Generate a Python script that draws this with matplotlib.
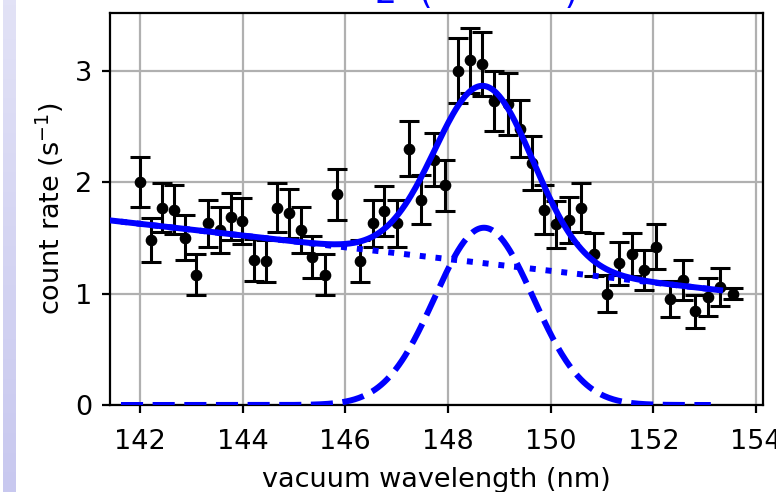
import numpy as np
import matplotlib.pyplot as plt
from matplotlib.colors import LinearSegmentedColormap

### data
wavelength = [142.00, 142.21, 142.43, 142.66, 142.88, 143.10, 143.32, 143.55, 143.77, 143.99,
              144.22, 144.45, 144.67, 144.90, 145.13, 145.36, 145.60, 145.84, 146.29, 146.53,
              146.76, 147.00, 147.24, 147.48, 147.72, 147.94, 148.19, 148.42, 148.66, 148.90,
              149.16, 149.41, 149.63, 149.87, 150.10, 150.36, 150.60, 150.85, 151.10, 151.34,
              151.58, 151.82, 152.06, 152.33, 152.57, 152.81, 153.06, 153.30, 153.56]
rate = [2.00, 1.48, 1.77, 1.75, 1.50, 1.17, 1.63, 1.57, 1.69, 1.65,
        1.30, 1.29, 1.77, 1.72, 1.57, 1.33, 1.17, 1.89, 1.29, 1.63,
        1.74, 1.63, 2.30, 1.84, 2.20, 1.97, 3.00, 3.09, 3.06, 2.73,
        2.70, 2.48, 2.17, 1.75, 1.62, 1.66, 1.77, 1.35, 1.00, 1.27,
        1.35, 1.21, 1.42, 0.95, 1.12, 0.84, 0.97, 1.06, 1.00]
rate_err = [0.22, 0.20, 0.22, 0.22, 0.20, 0.18, 0.21, 0.21, 0.21, 0.21,
            0.19, 0.19, 0.22, 0.22, 0.21, 0.19, 0.18, 0.23, 0.19, 0.21,
            0.22, 0.21, 0.25, 0.22, 0.24, 0.23, 0.29, 0.29, 0.29, 0.27,
            0.28, 0.26, 0.24, 0.22, 0.21, 0.21, 0.22, 0.19, 0.17, 0.19,
            0.19, 0.18, 0.20, 0.16, 0.18, 0.15, 0.17, 0.17, 0.05]

# fit parameters (gaussian peak on a linear background)
peak_center = 148.70
peak_amp = 1.59
peak_sigma = 0.96
bg_level = 1.272   # background at peak_center
bg_slope = -0.0527
fit_range = (141.63, 153.12)
total_range = (141.30, 153.30)


def background(x):
    return bg_level + bg_slope * (x - peak_center)


def peak(x):
    return peak_amp * np.exp(-(x - peak_center) ** 2 / (2 * peak_sigma ** 2))


### plot
fig = plt.figure(figsize=(7.76, 4.92), dpi=100)

# lavender strip on the left edge
strip = fig.add_axes([3 / 776, 0, 13 / 776, 1])
strip_cmap = LinearSegmentedColormap.from_list("strip", ["#e2e2f6", "#c8c8ef"])
strip.imshow(np.linspace(0, 1, 100).reshape(-1, 1), aspect="auto", cmap=strip_cmap)
strip.axis("off")

ax = fig.add_axes([110 / 776, 87 / 492, 653 / 776, 392 / 492])

ax.errorbar(wavelength, rate, yerr=rate_err, fmt="o", color="black", ms=7.4,
            elinewidth=2.2, capsize=7.2, capthick=2.2, zorder=3)

xs = np.linspace(*fit_range, 400)
xt = np.linspace(*total_range, 400)
ax.plot(xs, background(xs), ":", color="#0000ff", lw=4.3, zorder=4)
ax.plot(xs, peak(xs), "--", color="#0000ff", lw=4.3, zorder=4)
ax.plot(xt, background(xt) + peak(xt), "-", color="#0000ff", lw=4.3, zorder=5)

ax.set_xlim(141.416, 154.136)
ax.set_ylim(0, 3.516)
ax.set_xticks([142, 144, 146, 148, 150, 152, 154])
ax.set_yticks([0, 1, 2, 3])
ax.grid(True, color="#b0b0b0", lw=1.6)
ax.set_axisbelow(True)
for sp in ax.spines.values():
    sp.set_linewidth(1.6)
ax.tick_params(labelsize=19.5, length=6, width=1.6)
ax.tick_params(axis="x", pad=11)
ax.tick_params(axis="y", pad=7)

ax.set_xlabel("vacuum wavelength (nm)", fontsize=19.5, labelpad=9)
ax.set_ylabel("count rate (s$^{-1}$)", fontsize=19.5, labelpad=6)

# title, cut off by the top edge of the picture
fig.text(375 / 776, 1 - 3 / 492, "2  (            )", color="#0000ff",
         fontsize=25, ha="left", va="baseline")

fig.savefig("out.png", dpi=100)
